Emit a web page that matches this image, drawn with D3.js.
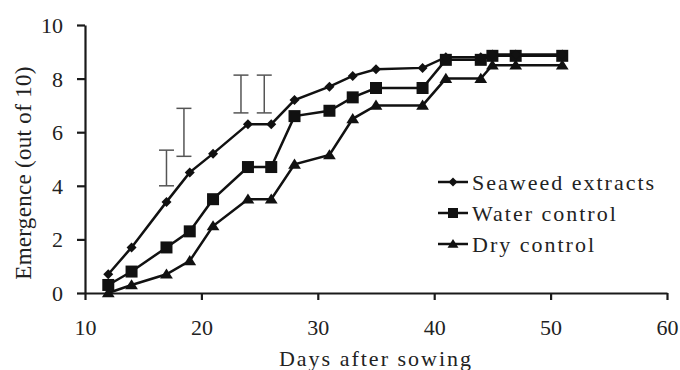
<!DOCTYPE html>
<html>
<head>
<meta charset="utf-8">
<script src="https://cdn.jsdelivr.net/npm/d3@7"></script>
<style>
  body { margin: 0; background: #fff; }
  svg text { font-family: "Liberation Serif", "Times New Roman", serif; }
</style>
</head>
<body>
<script>
// data
var days = [12, 14, 17, 19, 21, 24, 26, 28, 31, 33, 35, 39, 41, 44, 45, 47, 51];
var seaweed = [0.7, 1.7, 3.4, 4.5, 5.2, 6.3, 6.3, 7.2, 7.7, 8.1, 8.35, 8.4, 8.8, 8.8, 8.9, 8.9, 8.9];
var water = [0.3, 0.8, 1.7, 2.3, 3.5, 4.7, 4.7, 6.6, 6.8, 7.3, 7.65, 7.65, 8.7, 8.7, 8.85, 8.85, 8.85];
var dry = [0, 0.3, 0.7, 1.2, 2.5, 3.5, 3.5, 4.8, 5.15, 6.5, 7.0, 7.0, 8.0, 8.0, 8.5, 8.5, 8.5];
var seriesNames = ["Seaweed extracts", "Water control", "Dry control"];

// error bars (x, low, high)
var errX = [17, 18.5, 23.4, 25.4];
var errLow = [4.0, 5.1, 6.72, 6.72];
var errHigh = [5.33, 6.89, 8.13, 8.13];

var xTicks = [10, 20, 30, 40, 50, 60];
var yTicks = [0, 2, 4, 6, 8, 10];

var outerWidth = 680, outerHeight = 370;
var margin = { top: 25, right: 13, bottom: 77, left: 85 },
    width = outerWidth - margin.left - margin.right,
    height = outerHeight - margin.top - margin.bottom;

var xScale = d3.scaleLinear().domain([10, 60]).range([0, width]);
var yScale = d3.scaleLinear().domain([0, 10]).range([height, 0]);

var svg = d3.select("body").append("svg")
    .attr("width", outerWidth)
    .attr("height", outerHeight);

var g = svg.append("g")
    .attr("transform", "translate(" + margin.left + "," + margin.top + ")");

// axes
var xAxis = g.append("g")
    .attr("transform", "translate(0," + height + ")")
    .call(d3.axisBottom(xScale).tickValues(xTicks).tickSize(7).tickSizeOuter(0).tickPadding(19));
var yAxis = g.append("g")
    .call(d3.axisLeft(yScale).tickValues(yTicks).tickSize(8).tickSizeOuter(0).tickPadding(14));

[xAxis, yAxis].forEach(function (ax) {
    ax.attr("font-family", null);
    ax.select(".domain").attr("stroke", "#1a1a1a").attr("stroke-width", 2.2);
    ax.selectAll(".tick line").attr("stroke", "#1a1a1a").attr("stroke-width", 2.2);
    ax.selectAll(".tick text")
        .attr("fill", "#222")
        .attr("font-size", 22);
});
yAxis.selectAll(".tick text").attr("dy", "0.34em");

// axis titles
svg.append("text")
    .attr("x", margin.left + width / 2)
    .attr("y", 366)
    .attr("text-anchor", "middle")
    .attr("font-size", 22)
    .attr("letter-spacing", 2)
    .attr("fill", "#222")
    .text("Days after sowing");

svg.append("text")
    .attr("transform", "translate(31," + 173 + ") rotate(-90)")
    .attr("text-anchor", "middle")
    .attr("font-size", 23)
    .attr("letter-spacing", 0.3)
    .attr("fill", "#222")
    .text("Emergence (out of 10)");

// error bars
var eb = g.append("g").attr("stroke", "#555").attr("stroke-width", 1.5);
errX.forEach(function (x, i) {
    var cx = xScale(x), half = 7.5;
    eb.append("line").attr("x1", cx).attr("x2", cx).attr("y1", yScale(errLow[i])).attr("y2", yScale(errHigh[i]));
    eb.append("line").attr("x1", cx - half).attr("x2", cx + half).attr("y1", yScale(errLow[i])).attr("y2", yScale(errLow[i]));
    eb.append("line").attr("x1", cx - half).attr("x2", cx + half).attr("y1", yScale(errHigh[i])).attr("y2", yScale(errHigh[i]));
});

// marker shapes
function markerPath(kind, s) {
    if (kind === 0) return "M0," + (-s) + "L" + s + ",0L0," + s + "L" + (-s) + ",0Z";
    if (kind === 1) return "M" + (-s) + "," + (-s) + "H" + s + "V" + s + "H" + (-s) + "Z";
    return "M0," + (-s) + "L" + (s * 1.1) + "," + (s * 0.75) + "L" + (-s * 1.1) + "," + (s * 0.75) + "Z";
}
var markerSize = [5, 6, 5.8];

var line = d3.line()
    .x(function (d) { return xScale(d[0]); })
    .y(function (d) { return yScale(d[1]); });

var allSeries = [seaweed, water, dry];
// draw dry first so seaweed sits on top
[2, 1, 0].forEach(function (k) {
    var pts = days.map(function (d, i) { return [d, allSeries[k][i]]; });
    g.append("path")
        .datum(pts)
        .attr("fill", "none")
        .attr("stroke", "#111")
        .attr("stroke-width", 2.5)
        .attr("d", line);
    g.append("g").selectAll("path")
        .data(pts)
        .enter().append("path")
            .attr("transform", function (d) { return "translate(" + xScale(d[0]) + "," + yScale(d[1]) + ")"; })
            .attr("d", markerPath(k, markerSize[k]))
            .attr("fill", "#111");
});

// legend
var legend = svg.append("g")
    .selectAll("g")
    .data(seriesNames)
    .enter().append("g")
        .attr("transform", function (d, i) { return "translate(438," + (182 + i * 31) + ")"; });

legend.append("line")
    .attr("x1", 0).attr("x2", 30)
    .attr("stroke", "#111").attr("stroke-width", 2.5);
legend.append("path")
    .attr("transform", "translate(15,0)")
    .attr("d", function (d, i) { return markerPath(i, [4.5, 5, 5][i]); })
    .attr("fill", "#111");
legend.append("text")
    .attr("x", 34)
    .attr("dy", "0.35em")
    .attr("font-size", 22)
    .attr("letter-spacing", 2)
    .attr("fill", "#222")
    .text(function (d) { return d; });
</script>
</body>
</html>
